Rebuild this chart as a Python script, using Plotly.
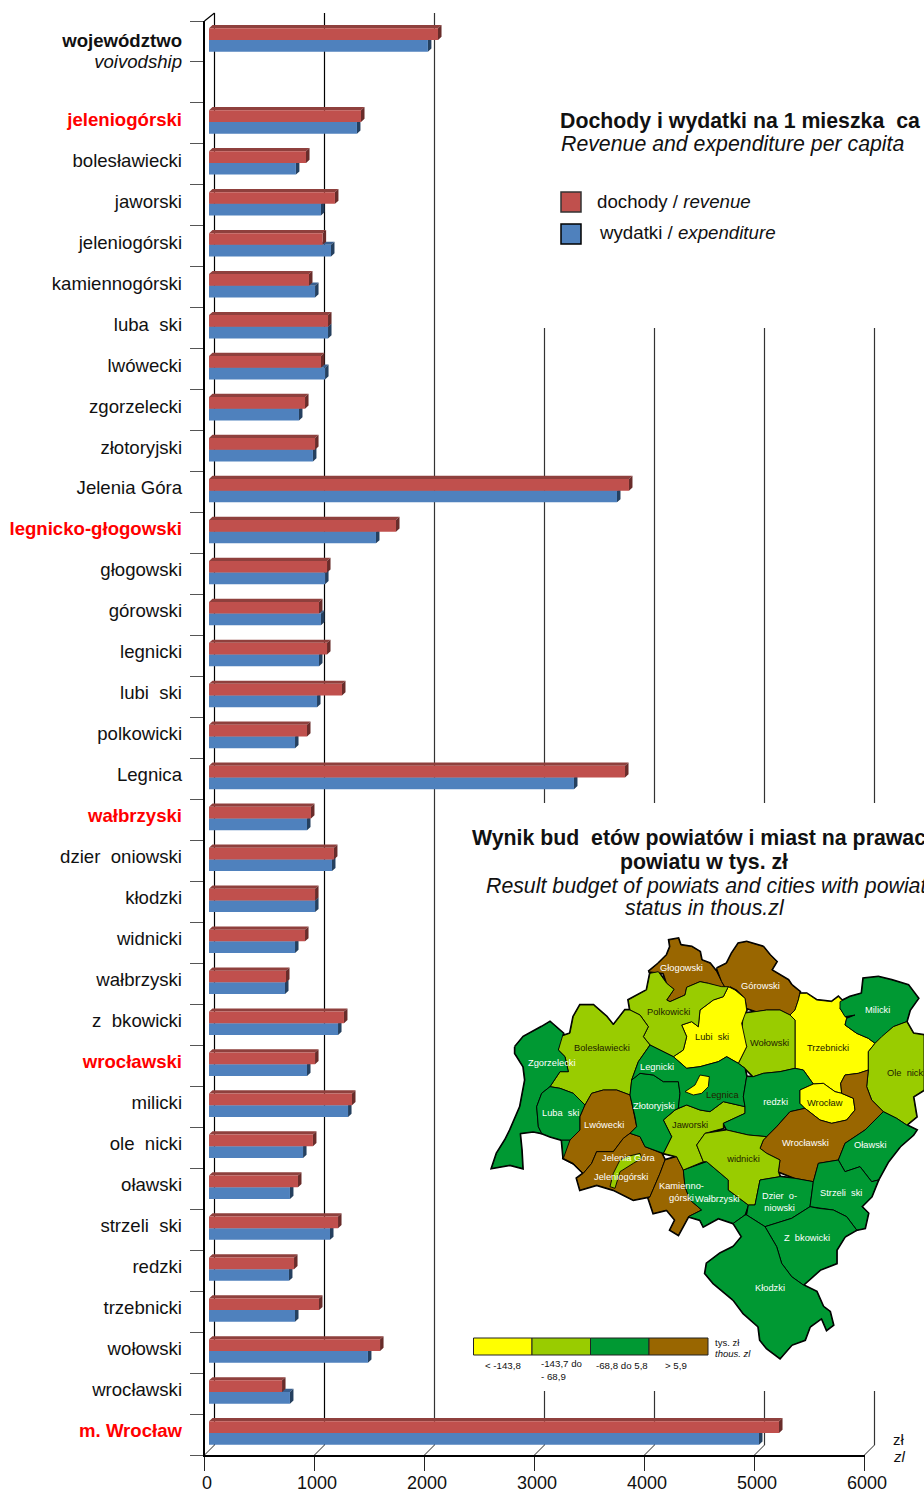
import plotly.graph_objects as go

W, H = 924, 1492
NB = "\u00a0\u00a0"

categories = ["województwo", "voivodship", "jeleniogórski", "bolesławiecki", "jaworski", "jeleniogórski",
              "kamiennogórski", "luba" + NB + "ski", "lwówecki", "zgorzelecki", "złotoryjski", "Jelenia Góra",
              "legnicko-głogowski", "głogowski", "górowski", "legnicki", "lubi" + NB + "ski", "polkowicki",
              "Legnica", "wałbrzyski", "dzier" + NB + "oniowski", "kłodzki", NB + "widnicki", "wałbrzyski",
              "z" + NB + "bkowicki", "wrocławski", "milicki", "ole" + NB + "nicki", "oławski",
              "strzeli" + NB + "ski", NB + "redzki", "trzebnicki", "wołowski", "wrocławski", "m. Wrocław"]
red_rows = [2, 12, 19, 25, 34]
revenue = [2082, None, 1382, 882, 1145, 1033, 909, 1082, 1018, 873, 964, 3818, 1700, 1073, 1000, 1073, 1209,
           891, 3782, 927, 1136, 964, 873, 700, 1227, 964, 1300, 945, 809, 1173, 773, 1000, 1555, 664, 5182]
expenditure = [1990, None, 1345, 790, 1018, 1109, 964, 1082, 1055, 818, 945, 3709, 1518, 1055, 1018, 1000, 982,
               782, 3318, 891, 1118, 964, 782, 691, 1173, 891, 1264, 855, 736, 1100, 727, 782, 1445, 736, 5000]
x_ticks = [0, 1000, 2000, 3000, 4000, 5000, 6000]

map_classes = {"yellow": "#ffff00", "light": "#99cc00", "green": "#009933", "brown": "#996600"}
map_regions = [
 ("brown", [(535,125),(565,100),(590,75),(600,50),(597,30),(625,25),(632,45),(665,50),(690,65),(695,90),(720,100),(740,125),(755,155),(770,180),(745,170),(715,160),(690,155),(650,172),(645,195),(600,215),(590,210),(612,178),(590,160),(580,130),(560,128)]),
 ("brown", [(740,115),(770,100),(785,70),(805,40),(830,35),(860,45),(880,50),(900,75),(920,95),(905,120),(930,135),(955,150),(965,165),(990,185),(985,210),(975,240),(960,255),(930,240),(890,240),(860,245),(830,235),(825,205),(800,180),(780,170),(770,180),(755,155)]),
 ("yellow", [(990,190),(1010,190),(1040,210),(1085,215),(1105,200),(1120,215),(1110,235),(1130,265),(1125,285),(1160,310),(1195,325),(1215,340),(1195,365),(1195,420),(1165,430),(1125,435),(1112,460),(1115,490),(1095,485),(1060,460),(1030,462),(1000,420),(975,415),(975,330),(975,270),(960,255),(975,240),(985,210)]),
 ("green", [(1110,215),(1140,200),(1175,190),(1180,145),(1225,140),(1265,150),(1315,165),(1345,205),(1320,240),(1310,275),(1270,290),(1235,320),(1215,340),(1195,325),(1160,310),(1125,285),(1130,265),(1155,255),(1125,260),(1110,235)]),
 ("light", [(1270,290),(1310,275),(1330,310),(1362,315),(1362,480),(1330,500),(1340,560),(1310,585),(1280,565),(1240,545),(1205,510),(1190,470),(1195,420),(1195,365),(1215,340),(1235,320)]),
 ("light", [(820,250),(860,245),(890,240),(930,240),(960,255),(975,270),(975,330),(975,415),(930,425),(880,430),(850,440),(825,415),(805,400),(830,350),(815,310)]),
 ("yellow", [(775,170),(795,180),(825,205),(830,240),(815,280),(830,350),(805,400),(770,380),(745,395),(690,410),(650,415),(610,380),(640,360),(650,320),(635,285),(665,275),(685,290),(690,240),(730,210),(760,200)]),
 ("light", [(480,240),(475,210),(530,180),(540,130),(565,125),(590,160),(612,178),(590,210),(600,215),(645,195),(650,172),(690,155),(715,160),(755,170),(775,170),(760,200),(730,210),(690,240),(685,290),(665,275),(635,285),(650,320),(640,360),(610,380),(570,360),(540,345),(520,320),(535,290),(510,255)]),
 ("light", [(270,320),(300,310),(310,260),(330,225),(370,225),(410,260),(430,285),(465,240),(480,240),(510,255),(535,290),(520,320),(540,345),(505,395),(485,450),(480,495),(440,480),(400,480),(365,490),(345,525),(310,490),(270,475),(240,470),(270,425),(295,425),(285,380),(265,360)]),
 ("green", [(135,350),(160,320),(215,290),(240,275),(280,310),(265,360),(285,380),(295,425),(270,425),(240,470),(215,490),(200,530),(205,590),(215,610),(190,605),(150,610),(155,660),(158,715),(120,705),(65,715),(80,670),(105,630),(120,600),(150,530),(165,450),(160,410),(135,370)]),
 ("green", [(275,630),(300,630),(310,700),(280,685)]),
 ("green", [(240,470),(270,475),(310,490),(345,525),(330,560),(330,600),(300,630),(275,630),(240,620),(215,610),(205,590),(200,530),(215,490)]),
 ("brown", [(345,525),(365,490),(400,480),(440,480),(480,495),(495,560),(500,590),(480,610),(460,625),(430,665),(380,665),(365,700),(340,730),(310,700),(280,685),(300,630),(330,600),(330,560)]),
 ("brown", [(460,625),(480,610),(510,620),(525,650),(575,670),(585,690),(570,730),(540,800),(490,810),(430,780),(380,765),(330,780),(320,745),(340,730),(365,700),(380,665),(430,665)]),
 ("light", [(450,690),(470,680),(510,670),(515,685),(490,700),(450,725),(435,775),(420,770),(430,730)]),
 ("brown", [(585,690),(620,680),(640,720),(645,770),(660,810),(695,840),(655,860),(640,890),(625,915),(600,900),(615,870),(590,840),(550,850),(535,805),(540,800),(570,730)]),
 ("green", [(640,720),(710,695),(775,750),(775,780),(835,825),(825,855),(790,880),(745,865),(700,890),(690,870),(655,860),(695,840),(660,810),(645,770)]),
 ("light", [(580,570),(615,540),(650,525),(690,540),(720,545),(760,515),(825,530),(825,550),(760,580),(760,595),(705,610),(680,645),(700,695),(640,720),(620,680),(580,670),(605,620),(590,590)]),
 ("green", [(485,450),(510,430),(550,435),(580,455),(625,455),(630,490),(625,535),(615,540),(580,570),(590,590),(605,620),(580,670),(525,650),(510,620),(480,610),(500,590),(495,560),(480,495)]),
 ("green", [(540,345),(570,360),(610,380),(650,415),(690,410),(745,395),(770,380),(805,400),(825,415),(830,440),(820,500),(825,530),(760,515),(720,545),(690,540),(650,525),(625,535),(630,490),(625,455),(580,455),(550,435),(510,430),(485,450),(505,395)]),
 ("yellow", [(690,435),(718,440),(715,470),(695,490),(670,495),(645,485),(675,465)]),
 ("green", [(830,440),(850,440),(880,430),(930,425),(975,415),(1000,420),(1030,462),(990,480),(990,520),(1005,535),(960,545),(920,590),(890,620),(835,615),(770,600),(760,580),(825,550),(825,530),(820,500)]),
 ("yellow", [(990,480),(1030,462),(1060,460),(1095,485),(1115,490),(1150,505),(1155,540),(1130,570),(1085,580),(1050,570),(1005,535),(990,520)]),
 ("brown", [(1112,460),(1125,435),(1165,430),(1195,420),(1190,470),(1205,510),(1240,545),(1185,600),(1125,640),(1105,690),(1045,700),(1030,755),(975,745),(925,725),(930,690),(890,670),(870,655),(880,630),(920,590),(960,545),(1005,535),(1050,570),(1085,580),(1130,570),(1155,540),(1150,505),(1115,490)]),
 ("green", [(1240,545),(1280,565),(1310,585),(1340,600),(1330,615),(1290,650),(1255,695),(1235,730),(1225,750),(1205,755),(1170,710),(1125,725),(1105,690),(1125,640),(1185,600)]),
 ("light", [(705,610),(770,600),(835,615),(890,620),(880,630),(870,655),(890,670),(930,690),(925,725),(930,740),(870,750),(855,825),(835,825),(775,780),(775,750),(710,695),(700,695),(680,645)]),
 ("green", [(870,750),(930,740),(975,745),(1030,755),(1020,830),(965,865),(885,890),(830,855),(835,825),(855,825)]),
 ("green", [(1045,700),(1105,690),(1125,725),(1170,710),(1205,755),(1225,750),(1205,800),(1175,830),(1195,850),(1185,895),(1160,900),(1130,860),(1090,840),(1045,835),(1020,830),(1030,755)]),
 ("green", [(885,890),(965,865),(1020,830),(1045,835),(1090,840),(1130,860),(1160,900),(1125,920),(1100,960),(1100,1000),(1050,1020),(1000,1065),(965,1040),(935,1000),(920,950)]),
 ("green", [(830,855),(885,890),(920,950),(935,1000),(965,1040),(1000,1065),(1040,1085),(1060,1130),(1080,1145),(1090,1185),(1070,1200),(1055,1165),(1020,1190),(1005,1230),(965,1245),(930,1285),(890,1255),(870,1230),(865,1190),(820,1150),(790,1110),(730,1060),(705,1030),(710,1000),(750,970),(790,950),(815,920),(790,880),(825,855)]),
]
map_labels = [
 ("Głogowski",681,968,"w"),("Górowski",760,986,"w"),("Milicki",877,1010,"w"),("Polkowicki",668,1012,"d"),
 ("Lubi"+NB+"ski",712,1037,"d"),("Wołowski",769,1043,"d"),("Trzebnicki",828,1048,"d"),("Bolesławiecki",602,1048,"d"),
 ("Zgorzelecki",552,1063,"w"),("Legnicki",657,1067,"w"),("Ole"+NB+"nicki",906,1073,"d"),("Legnica",722,1095,"d"),
 ("Złotoryjski",654,1106,"w"),(NB+"redzki",773,1102,"w"),("Wrocław",825,1103,"d"),("Luba"+NB+"ski",560,1113,"w"),
 ("Jaworski",690,1125,"d"),("Lwówecki",604,1125,"w"),("Wrocławski",805,1143,"w"),("Oławski",870,1145,"w"),
 ("Jelenia Góra",629,1158,"w"),(NB+"widnicki",741,1159,"d"),("Jeleniogórski",621,1177,"w"),
 ("Kamienno-<br>górski",681,1192,"w"),("Wałbrzyski",717,1199,"w"),("Dzier"+NB+"o-<br>niowski",779,1202,"w"),
 ("Strzeli"+NB+"ski",841,1193,"w"),("Z"+NB+"bkowicki",807,1238,"w"),("Kłodzki",770,1288,"w"),
]
legend_bins = ["yellow", "light", "green", "brown"]
legend_bin_labels = ["< -143,8", "-143,7 do<br>- 68,9", "-68,8 do 5,8", "> 5,9"]

FONT = "Liberation Sans, Arial, sans-serif"
C_RED, C_BLUE = "#c0504d", "#4f81bd"
C_RED_TOP, C_RED_SIDE = "#8f403d", "#692c2a"
C_BLUE_TOP, C_BLUE_SIDE = "#3a6090", "#25405f"
ROW = (1455 - 21) / 35
PX = 0.11  # px per zł
BAR_H = 11.7 / ROW
DX, DY = 3.5 / PX, 3.2 / ROW


def dom_x(a, b):
    return [a / W, b / W]


def dom_y(top, bottom):
    return [1 - bottom / H, 1 - top / H]


fig = go.Figure()


def faces(values, y_top, color_top, color_side):
    tx, ty, sx, sy = [], [], [], []
    for i, v in enumerate(values):
        if v is None:
            continue
        t = i + 0.5 + y_top
        b = t + BAR_H
        tx += [0, DX, v + DX, v, None]
        ty += [t, t - DY, t - DY, t, None]
        sx += [v, v + DX, v + DX, v, None]
        sy += [t, t - DY, b - DY, b, None]
    for xs, ys, c in ((tx, ty, color_top), (sx, sy, color_side)):
        fig.add_trace(go.Scatter(x=xs, y=ys, xaxis="x2", yaxis="y2", mode="lines", fill="toself",
                                 fillcolor=c, line=dict(width=0, color=c), hoverinfo="skip", showlegend=False))


faces(expenditure, 0, C_BLUE_TOP, C_BLUE_SIDE)
faces(revenue, -BAR_H, C_RED_TOP, C_RED_SIDE)
rows = [i + 0.5 for i in range(len(categories))]
fig.add_trace(go.Bar(y=rows, x=expenditure, orientation="h", width=BAR_H, offset=0, marker=dict(color=C_BLUE, line_width=0),
                     name="wydatki / expenditure", xaxis="x3", yaxis="y3", showlegend=False))
fig.add_trace(go.Bar(y=rows, x=revenue, orientation="h", width=BAR_H, offset=-BAR_H, marker=dict(color=C_RED, line_width=0),
                     name="dochody / revenue", xaxis="x3", yaxis="y3", showlegend=False))
# helper trace so that the front axes are drawn
fig.add_trace(go.Scatter(x=[None], y=[None], xaxis="x", yaxis="y", showlegend=False))

for width_, filled in ((2.4, False), (0.9, True)):
    for cls, poly in map_regions:
        fig.add_trace(go.Scatter(x=[p[0] for p in poly] + [poly[0][0]], y=[p[1] for p in poly] + [poly[0][1]],
                                 xaxis="x4", yaxis="y4", mode="lines", fill="toself" if filled else "none",
                                 fillcolor=map_classes[cls],
                                 line=dict(color="#000000", width=width_), hoverinfo="skip", showlegend=False))


def label_tick(i, name):
    if i == 0:
        return f"<b>{name}</b>"
    if i == 1:
        return f"<i>{name}</i>"
    if i in red_rows:
        return f'<span style="color:#ff0000"><b>{name}</b></span>'
    return name


tick_pos = [0.465, 1.0] + [i + 0.5 - 4.2 / ROW for i in range(2, len(categories))]
fig.update_layout(
    template="none",
    width=W, height=H, autosize=False, margin=dict(l=0, r=0, t=0, b=0, pad=0), paper_bgcolor="white", plot_bgcolor="rgba(0,0,0,0)",
    barmode="overlay", showlegend=False, font=dict(family=FONT, color="#111111"),
    xaxis=dict(domain=dom_x(204.5, 864.5), range=[0, 6000], anchor="y", tickmode="array", tickvals=x_ticks, automargin=False,
               ticktext=["\u00a0" + str(t) for t in x_ticks],
               ticks="outside", ticklen=14, tickcolor="#222", tickwidth=1,
               showgrid=False, zeroline=False, showline=True, linecolor="#000", linewidth=1.5,
               tickfont=dict(size=18, family=FONT, color="#111"), ticklabelstandoff=-3),
    yaxis=dict(domain=dom_y(21, 1455), range=[35, 0], anchor="x", tickmode="array", tickvals=tick_pos, automargin=False,
               ticktext=[label_tick(i, c) for i, c in enumerate(categories)],
               ticks="outside", ticklen=17, tickcolor="rgba(0,0,0,0)", showgrid=False, zeroline=False,
               showline=True, linecolor="#000", linewidth=1.5, tickfont=dict(size=18.6, family=FONT, color="#111"),
               minor=dict(tickmode="array", tickvals=list(range(36)), ticks="outside", ticklen=13, tickcolor="#555", tickwidth=1.3, showgrid=False)),
    xaxis2=dict(domain=dom_x(209, 869), range=[0, 6000], anchor="y2", visible=False, automargin=False),
    yaxis2=dict(domain=dom_y(19.5, 1453.5), range=[35, 0], anchor="x2", visible=False, automargin=False),
    xaxis3=dict(range=[0, 6000], anchor="y3", overlaying="x2", visible=False, domain=dom_x(209, 869), automargin=False),
    yaxis3=dict(range=[35, 0], anchor="x3", overlaying="y2", visible=False, domain=dom_y(19.5, 1453.5), automargin=False),
    xaxis4=dict(domain=[0, 1], range=[-1410, 1362], anchor="y4", visible=False, automargin=False),
    yaxis4=dict(domain=[0, 1], range=[1686, -2790], anchor="x4", visible=False, automargin=False),
)

shapes = []


def line(x0, y0, x1, y1, color="#222", width=1):
    shapes.append(dict(type="line", xref="paper", yref="paper", x0=x0 / W, x1=x1 / W, y0=1 - y0 / H, y1=1 - y1 / H,
                       line=dict(color=color, width=width), layer="below"))


for t in x_ticks:
    fx = 204.5 + PX * t
    bx = fx + 10
    line(fx, 1455, bx, 1445, "#222")
    if t <= 2000:
        line(bx, 13, bx, 1445, "#000" if t < 2000 else "#333", 1.2)
    else:
        line(bx, 328, bx, 803, "#333", 1.2)
        line(bx, 1391, bx, 1445, "#333", 1.2)
line(204.5, 21, 214.5, 13, "#000", 1.3)


def rect(x0, y0, x1, y1, fill, lc="#000", lw=1):
    shapes.append(dict(type="rect", xref="paper", yref="paper", x0=x0 / W, x1=x1 / W, y0=1 - y0 / H, y1=1 - y1 / H,
                       fillcolor=fill, line=dict(color=lc, width=lw), layer="above"))


rect(561, 192, 581, 212, C_RED, "#333", 1.5)
rect(561, 224, 581, 244, C_BLUE, "#000", 1.5)
edges = [473.5, 532, 590.5, 649, 708]
for k, cls in enumerate(legend_bins):
    rect(edges[k], 1338, edges[k + 1], 1355, map_classes[cls], "#222", 1)
fig.update_layout(shapes=shapes)

anns = []


def ann(x, y, text, size, anchor="left", color="#111"):
    anns.append(dict(xref="paper", yref="paper", x=x / W, y=1 - y / H, text=text, showarrow=False, xanchor=anchor,
                     yanchor="middle", align=anchor, font=dict(size=size, color=color, family=FONT), borderpad=0))


ann(559, 121, "<b>Dochody i wydatki na 1 mieszka" + NB + "ca</b>", 21.3)
ann(560, 144, "<i>Revenue and expenditure per capita</i>", 21.3)
ann(595.5, 202, "dochody / <i>revenue</i>", 18.7)
ann(597.5, 233, "wydatki / <i>expenditure</i>", 18.7)
ann(471, 838, "<b>Wynik bud" + NB + "etów powiatów i miast na prawach</b>", 21.3)
ann(704, 862, "<b>powiatu w tys. zł</b>", 21.3, "center")
ann(485, 886, "<i>Result budget of powiats and cities with powiat</i>", 21.3)
ann(705, 908, "<i>status in thous.zl</i>", 21.3, "center")
ann(892, 1439, "zł", 15)
ann(892, 1456, "<i>zl</i>", 15)
ann(714, 1342, "tys. zł", 9.5)
ann(714, 1353, "<i>thous. zl</i>", 9.5)
ann(503, 1365, legend_bin_labels[0], 9.7, "center")
ann(540, 1370, legend_bin_labels[1], 9.7, "left")
ann(622, 1365, legend_bin_labels[2], 9.7, "center")
ann(676, 1365, legend_bin_labels[3], 9.7, "center")
for txt, x, y, c in map_labels:
    ann(x, y, txt, 9.3, "center", "#ffffff" if c == "w" else "#222200")
fig.update_layout(annotations=anns)

fig.write_html("out.html", post_script="document.body.style.margin='0';document.body.style.overflow='hidden';",
               config={"displayModeBar": False})
